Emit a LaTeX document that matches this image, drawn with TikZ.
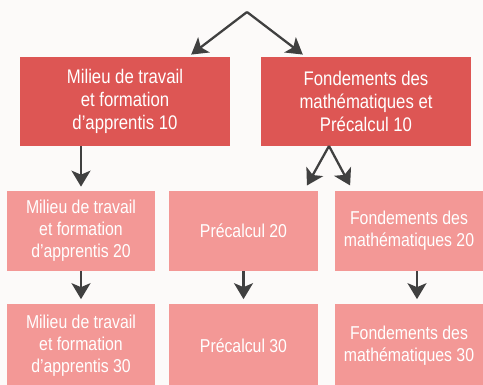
\documentclass[tikz,border=0pt]{standalone}
\usepackage{fontspec}
\setmainfont{Liberation Sans}[FakeStretch=0.85]
\usetikzlibrary{arrows.meta}
\definecolor{dr}{RGB}{221,86,84}
\definecolor{lr}{RGB}{243,152,150}
\definecolor{dg}{RGB}{64,64,64}
\definecolor{paper}{RGB}{252,250,249}
\tikzset{
    course/.style = {rectangle,
                    fill=dr,
                    draw=none,
                    text=white,
                    align=center,
                    inner sep=0pt,
                    font=\fontsize{11.2}{12.9}\selectfont},
    later/.style =  {rectangle,
                    fill=lr,
                    draw=none,
                    text=white,
                    align=center,
                    inner sep=0pt,
                    font=\fontsize{10.6}{12.6}\selectfont},
    big/.style =    {minimum width=4.22cm,
                    minimum height=1.78cm},
    small/.style =  {minimum width=2.98cm,
                    minimum height=1.6cm},
    link/.style =   {draw=dg,
                    line width=1.3pt,
                    -{Stealth[length=0.32cm,width=0.38cm,inset=0.08cm]}},
    >=Stealth,
    shorten >= 0.08cm}

\begin{document}
\begin{tikzpicture}[x=0.02cm,y=-0.02cm]
\useasboundingbox (0,0) rectangle (483,385);
\fill[paper] (0,0) rectangle (483,385);

                                \coordinate         (top)   at (247,12);
                                \coordinate         (fork)  at (329,146);
                                \coordinate         (ltip)  at (188,57);
                                \coordinate         (rtip)  at (306,57);
                                \coordinate         (dtip)  at (305,189);
                                \coordinate         (etip)  at (352,189);

                                \node[course,big]   (A)     at (125,101.5)  {Milieu de travail\\et formation\\d’apprentis 10};
                                \node[course,big]   (B)     at (366,101.5)  {Fondements des\\mathématiques et\\Précalcul 10};

                                \node[later,small]  (C)     at (81,231)     {Milieu de travail\\et formation\\d’apprentis 20};
                                \node[later,small]  (D)     at (243.5,231)  {Précalcul 20};
                                \node[later,small]  (E)     at (409,231)    {Fondements des\\mathématiques 20};

                                \node[later,small,minimum height=1.7cm]  (C3)    at (81,346)     {Milieu de travail\\et formation\\d’apprentis 30};
                                \node[later,small,minimum height=1.7cm]  (D3)    at (243.5,346)  {Précalcul 30};
                                \node[later,small,minimum height=1.7cm]  (E3)    at (409,346)    {Fondements des\\mathématiques 30};

                                \path               (top) edge [link] (ltip)
                                                    (top) edge [link] (rtip)
                                                    (A.south -| C.north) edge [link] (C.north)
                                                    (fork) edge [link] (dtip)
                                                    (fork) edge [link] (etip)
                                                    (C.south) edge [link] (C3.north)
                                                    (D.south) edge [link] (D3.north)
                                                    ([xshift=0.16cm]E.south) edge [link] ([xshift=0.16cm]E3.north);
\end{tikzpicture}
\end{document}
